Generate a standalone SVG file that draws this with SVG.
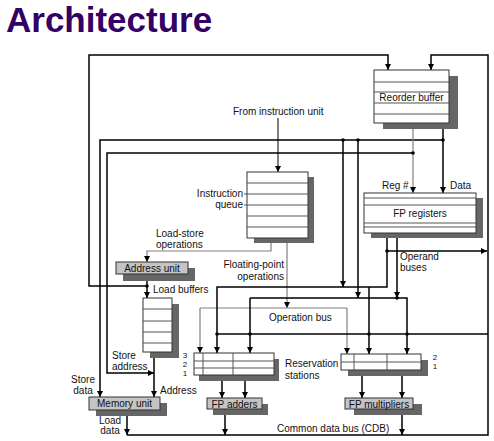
<svg xmlns="http://www.w3.org/2000/svg" width="494" height="441" viewBox="0 0 494 441">
<style>
text{font-family:"Liberation Sans",Arial,sans-serif;font-size:10px;fill:#111}
.title{font-size:35px;font-weight:bold;fill:#330066}
.box{fill:#fff;stroke:#333;stroke-width:1}
.gbox{fill:#c4c4c4;stroke:#333;stroke-width:1}
.sh{fill:#666}
.row{stroke:#555;stroke-width:1;fill:none}
.w{fill:none;stroke:#000;stroke-width:1.5}
.g{fill:none;stroke:#808080;stroke-width:1.2}
.m{text-anchor:middle}
.e{text-anchor:end}
.n{font-size:8px}
.dot{fill:#000}
</style>
<defs>
<marker id="ah" markerUnits="userSpaceOnUse" markerWidth="7" markerHeight="7" refX="6" refY="3" orient="auto">
<path d="M0,0 L6,3 L0,6 z" fill="#000"/>
</marker>
</defs>
<rect width="494" height="441" fill="#fff"/>
<text class="title" x="6" y="32">Architecture</text>

<g id="connectors">
<path class="w" d="M147,286 H89 V55 H388 V70" marker-end="url(#ah)"/>
<path class="w" d="M147,274 V298" marker-end="url(#ah)"/>
<path class="g" d="M271,238 V251 H147 V262" marker-end="url(#ah)"/>
<path class="w" d="M278,118 V172" marker-end="url(#ah)" style="stroke-width:1"/>
<path class="g" d="M287,238 V308" marker-end="url(#ah)"/>
<path class="g" d="M200,308 H347"/>
<path class="g" d="M200,308 V353" marker-end="url(#ah)"/>
<path class="g" d="M347,308 V354" marker-end="url(#ah)"/>
<path class="w" d="M443,123 V193" marker-end="url(#ah)"/>
<path class="w" d="M443,140 H100 V397" marker-end="url(#ah)"/>
<path class="g" d="M413,123 V193" marker-end="url(#ah)"/>
<path class="w" d="M413,153 H107 V373 H154" marker-end="url(#ah)"/>
<path class="w" d="M343,140 V287" marker-end="url(#ah)"/>
<path class="w" d="M358,140 V298" marker-end="url(#ah)"/>
<path class="w" d="M387,233 V287 H217 V353" marker-end="url(#ah)"/>
<path class="w" d="M387,251 H487" marker-end="url(#ah)"/>
<path class="w" d="M397,233 V298" marker-end="url(#ah)"/>
<path class="w" d="M250,298 V353" marker-end="url(#ah)"/>
<path class="w" d="M250,298 H407 V354" marker-end="url(#ah)"/>
<path class="w" d="M369,287 V354" marker-end="url(#ah)"/>
<path class="w" d="M127,435 H488 V55 H431 V70" marker-end="url(#ah)"/>
<path class="w" d="M488,334 H217"/>
<path class="w" d="M154,352 V397" marker-end="url(#ah)"/>
<path class="w" d="M127,410 V435" marker-end="url(#ah)"/>
<path class="w" d="M222,375 V398" marker-end="url(#ah)"/>
<path class="w" d="M245,375 V398" marker-end="url(#ah)"/>
<path class="w" d="M225,409 V435" marker-end="url(#ah)"/>
<path class="w" d="M362,370 V398" marker-end="url(#ah)"/>
<path class="w" d="M402,370 V398" marker-end="url(#ah)"/>
<path class="w" d="M402,409 V435" marker-end="url(#ah)"/>
<circle class="dot" cx="147" cy="286" r="1.8"/>
<circle class="dot" cx="443" cy="140" r="1.8"/>
<circle class="dot" cx="343" cy="140" r="1.8"/>
<circle class="dot" cx="358" cy="140" r="1.8"/>
<circle class="dot" cx="413" cy="153" r="1.8"/>
<circle class="dot" cx="387" cy="251" r="1.8"/>
<circle class="dot" cx="397" cy="298" r="1.8"/>
<circle class="dot" cx="217" cy="334" r="1.8"/>
<circle class="dot" cx="250" cy="334" r="1.8"/>
<circle class="dot" cx="369" cy="334" r="1.8"/>
<circle class="dot" cx="407" cy="334" r="1.8"/>
</g>

<g id="reorder-buffer">
<rect class="sh" x="383" y="76" width="75" height="53"/>
<rect class="box" x="374" y="70" width="75" height="53"/>
<path class="row" d="M374,82 H449 M374,92 H449 M374,103 H449 M374,114 H449"/>
<text class="m" x="411.5" y="101">Reorder buffer</text>
</g>

<g id="fp-registers">
<rect class="sh" x="371" y="198" width="112" height="40"/>
<rect class="box" x="364" y="193" width="112" height="40"/>
<path class="row" d="M364,198 H476 M364,205 H476 M364,223 H476 M364,227 H476"/>
<text class="m" x="420" y="217">FP registers</text>
</g>

<g id="instruction-queue">
<rect class="sh" x="254" y="177" width="60" height="66"/>
<rect class="box" x="247" y="172" width="61" height="66"/>
<path class="row" d="M247,183 H308 M244,194 H308 M244,205 H308 M247,216 H308 M247,227 H308"/>
<text class="e" x="243" y="197">Instruction</text>
<text class="e" x="243" y="208">queue</text>
</g>

<g id="address-unit">
<rect class="sh" x="123" y="268" width="72" height="13"/>
<rect class="gbox" x="116" y="262" width="72" height="12"/>
<text class="m" x="152" y="272">Address unit</text>
</g>

<g id="load-buffers">
<rect class="sh" x="150" y="304" width="29" height="54"/>
<rect class="box" x="143" y="298" width="29" height="54"/>
<path class="row" d="M143,309 H172 M143,321 H172 M143,332 H172 M143,343 H172"/>
</g>

<g id="memory-unit">
<rect class="sh" x="96" y="403" width="71" height="13"/>
<rect class="gbox" x="89" y="397" width="71" height="13"/>
<text class="m" x="124.5" y="407">Memory unit</text>
</g>

<g id="adder-stations">
<rect class="sh" x="199" y="359" width="80" height="22"/>
<rect class="box" x="194" y="353" width="80" height="22"/>
<path class="row" d="M194,361 H274 M194,368 H274 M203,353 V375 M233,353 V375"/>
<text class="m n" x="185" y="357.5">3</text>
<text class="m n" x="185" y="366.5">2</text>
<text class="m n" x="185" y="375.5">1</text>
</g>

<g id="fp-adders">
<rect class="sh" x="213" y="404" width="55" height="11"/>
<rect class="gbox" x="207" y="398" width="55" height="11"/>
<text class="m" x="234.5" y="407.5">FP adders</text>
</g>

<g id="mult-stations">
<rect class="sh" x="348" y="360" width="80" height="16"/>
<rect class="box" x="341" y="354" width="80" height="16"/>
<path class="row" d="M341,362 H421 M354,354 V370 M387,354 V370"/>
<text class="m n" x="435" y="359.5">2</text>
<text class="m n" x="435" y="368.5">1</text>
</g>

<g id="fp-multipliers">
<rect class="sh" x="354" y="404" width="68" height="11"/>
<rect class="gbox" x="345" y="398" width="68" height="11"/>
<text class="m" x="379" y="407.5">FP multipliers</text>
</g>

<g id="labels">
<text x="233" y="115">From instruction unit</text>
<text x="382" y="188.5">Reg #</text>
<text x="450" y="188.5">Data</text>
<text x="156" y="237">Load-store</text>
<text x="156" y="247.5">operations</text>
<text class="e" x="284" y="267.5">Floating-point</text>
<text class="e" x="284" y="279.5">operations</text>
<text x="153" y="293">Load buffers</text>
<text x="400" y="260">Operand</text>
<text x="400" y="271">buses</text>
<text x="269" y="321">Operation bus</text>
<text x="285" y="367">Reservation</text>
<text x="285" y="378.5">stations</text>
<text x="112" y="358.5">Store</text>
<text x="112" y="369.5">address</text>
<text x="160" y="393.5">Address</text>
<text class="m" x="83" y="382.5">Store</text>
<text class="m" x="83" y="393.5">data</text>
<text class="m" x="110" y="423.5">Load</text>
<text class="m" x="110" y="434">data</text>
<text x="277" y="431.5">Common data bus (CDB)</text>
</g>
</svg>
